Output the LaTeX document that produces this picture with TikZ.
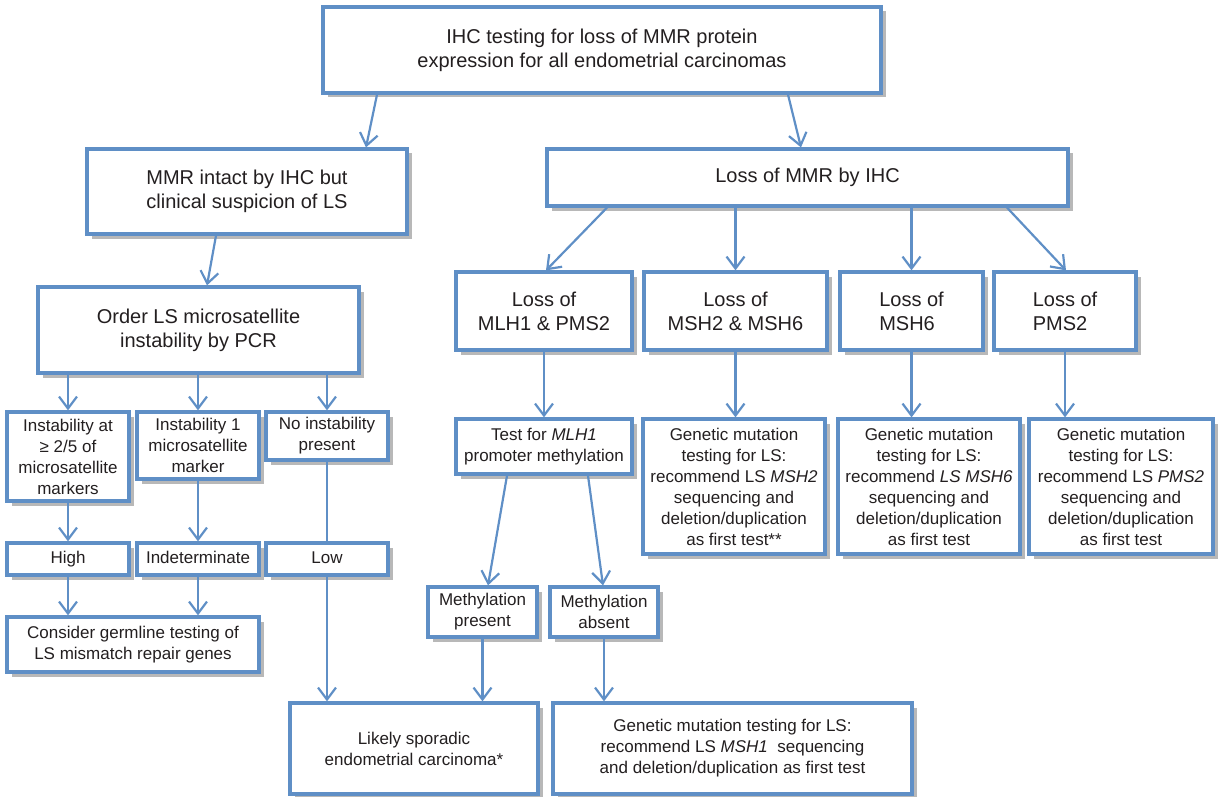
\documentclass[tikz,border=0pt]{standalone}
\usepackage{fontspec}
\setmainfont{Liberation Sans}
\usepackage{tikz}
\usetikzlibrary{arrows.meta}
\usetikzlibrary{shadows}
\definecolor{mmrblue}{RGB}{95,143,198}
\definecolor{ink}{RGB}{35,31,32}

\begin{document}
\begin{tikzpicture}
    [
    x=1pt, y=-1pt,
    box/.style={draw=mmrblue, line width=3.2pt, fill=white, text=ink, align=center, inner sep=0pt,
      drop shadow={shadow xshift=4.5pt, shadow yshift=-4.5pt, fill=black!28, opacity=1}},
    bigbox/.style={box, font=\fontsize{20}{24}\selectfont},
    smallbox/.style={box, font=\fontsize{17}{21}\selectfont},
    rowbox/.style={smallbox, minimum width=122pt, minimum height=32pt, text height=12pt, text depth=4pt},
    link/.style={draw=mmrblue, line width=2.2pt},
    flow/.style={link, -{Straight Barb[length=12pt, width=18pt]}},
    ]
    \useasboundingbox (0,0) rectangle (1221,797);

    \node (top) at (602,50) [bigbox, minimum width=558pt, minimum height=86pt] {IHC testing for loss of MMR protein\\expression for all endometrial carcinomas};
    \node (intact) at (247,191.5) [bigbox, minimum width=320pt, minimum height=85pt] {MMR intact by IHC but\\clinical suspicion of LS};
    \node (lossmmr) at (807.5,177.5) [bigbox, minimum width=521pt, minimum height=57pt] {Loss of MMR by IHC};
    \node (order) at (198.5,330) [bigbox, minimum width=321pt, minimum height=86pt] {Order LS microsatellite\\instability by PCR};

    \node (lmlh) at (544,311) [bigbox, minimum width=176pt, minimum height=78pt] {Loss of\\MLH1 \& PMS2};
    \node (lmsh26) at (735.5,311) [bigbox, minimum width=183pt, minimum height=78pt] {Loss of\\MSH2 \& MSH6};
    \node (lmsh6) at (911.5,311) [bigbox, align=left, minimum width=143pt, minimum height=78pt] {Loss of\\MSH6};
    \node (lpms2) at (1065,311) [bigbox, align=left, minimum width=142pt, minimum height=78pt] {Loss of\\PMS2};

    \node (inst2) at (68,456.5) [smallbox, minimum width=122pt, minimum height=89pt] {Instability at\\≥ 2/5 of\\microsatellite\\markers};
    \node (inst1) at (198,445.5) [smallbox, minimum width=122pt, minimum height=67pt] {Instability 1\\microsatellite\\marker};
    \node (noinst) at (327,436) [smallbox, minimum width=122pt, minimum height=48pt] {No instability\\present};
    \node (high) at (68,559) [rowbox] {High};
    \node (indet) at (198,559) [rowbox] {Indeterminate};
    \node (low) at (327,559) [rowbox] {Low};
    \node (germ) at (133,644.5) [smallbox, minimum width=252pt, minimum height=55pt] {Consider germline testing of\\LS mismatch repair genes};

    \node (testmlh) at (544,446.5) [smallbox, minimum width=176pt, minimum height=55pt] {Test for \textit{MLH1}\\promoter methylation};
    \node (gmsh2) at (734,486.5) [smallbox, minimum width=182pt, minimum height=135pt] {Genetic mutation\\testing for LS:\\recommend LS \textit{MSH2}\\sequencing and\\deletion/duplication\\as first test**};
    \node (gmsh6) at (929,486.5) [smallbox, minimum width=182pt, minimum height=135pt] {Genetic mutation\\testing for LS:\\recommend \textit{LS MSH6}\\sequencing and\\deletion/duplication\\as first test};
    \node (gpms2) at (1121,486.5) [smallbox, minimum width=184pt, minimum height=135pt] {Genetic mutation\\testing for LS:\\recommend LS \textit{PMS2}\\sequencing and\\deletion/duplication\\as first test};
    \node (methp) at (482.5,612) [smallbox, minimum width=109pt, minimum height=50pt] {Methylation\\present};
    \node (metha) at (604,612) [smallbox, minimum width=108pt, minimum height=50pt] {Methylation\\absent};
    \node (spor) at (414,748.5) [smallbox, minimum width=248pt, minimum height=91pt] {Likely sporadic\\endometrial carcinoma*};
    \node (gmsh1) at (732.5,748.5) [smallbox, minimum width=359pt, minimum height=91pt] {Genetic mutation testing for LS:\\recommend LS \textit{MSH1}\ \ sequencing\\and deletion/duplication as first test};

    \draw [flow] ([xshift=-225pt]top.south) to ([xshift=119pt]intact.north);
    \draw [flow] ([xshift=186pt]top.south) to ([xshift=-6.5pt]lossmmr.north);
    \draw [flow] ([xshift=-31pt]intact.south) to ([xshift=8.5pt]order.north);
    \draw [flow] ([xshift=-200.5pt]lossmmr.south) to ([xshift=2pt]lmlh.north);
    \draw [flow] (lossmmr.south -| lmsh26.north) to (lmsh26.north);
    \draw [flow] (lossmmr.south -| lmsh6.north) to (lmsh6.north);
    \draw [flow] ([xshift=199.5pt]lossmmr.south) to ([xshift=1pt]lpms2.north);

    \foreach \n in {inst2,inst1,noinst}
      \draw [flow] (order.south -| \n.north) to (\n.north);
    \draw [flow] (inst2) to (high);
    \draw [flow] (inst1) to (indet);
    \draw [link] (noinst) to (low);
    \draw [flow] (high.south) to (high.south |- germ.north);
    \draw [flow] (indet.south) to (indet.south |- germ.north);
    \draw [flow] (low.south) to (low.south |- spor.north);

    \draw [flow] (lmlh) to (testmlh);
    \foreach \a/\b in {lmsh26/gmsh2,lmsh6/gmsh6,lpms2/gpms2,methp/spor,metha/gmsh1}
      \draw [flow] (\a.south) to (\a.south |- \b.north);
    \draw [flow] ([xshift=-37pt]testmlh.south) to ([xshift=5.5pt]methp.north);
    \draw [flow] ([xshift=44pt]testmlh.south) to ([xshift=-1pt]metha.north);
  \end{tikzpicture}
\end{document}
